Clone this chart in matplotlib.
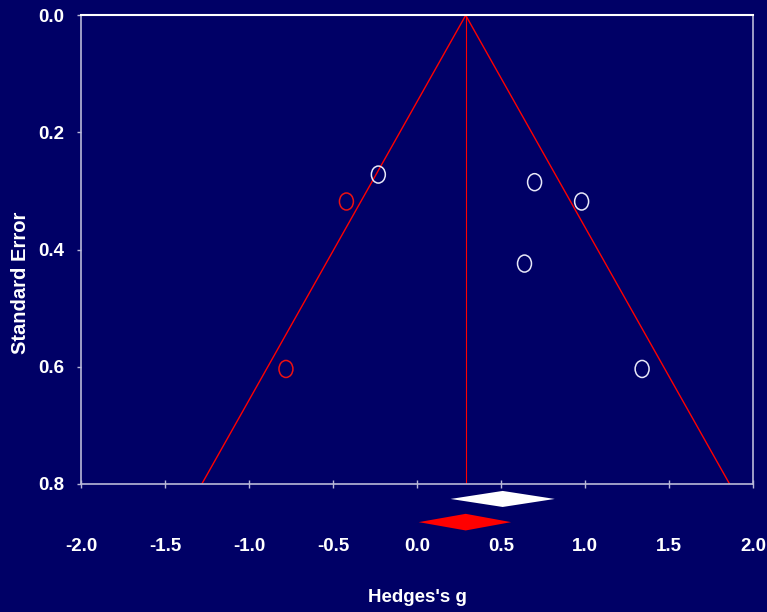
import numpy as np
import matplotlib
matplotlib.use('Agg')
import matplotlib.pyplot as plt
from matplotlib.path import Path
from matplotlib.transforms import Affine2D

# observed studies (white) and imputed studies (red)
obs_g = [-0.23, 0.70, 0.98, 0.64, 1.34]
obs_se = [0.272, 0.285, 0.318, 0.424, 0.604]
imp_g = [-0.42, -0.78]
imp_se = [0.318, 0.604]

# combined effect: observed (white) and adjusted (red) diamonds
obs_est = [0.20, 0.51, 0.82]
adj_est = [0.01, 0.29, 0.56]

# funnel (pseudo 95% limits)
funnel_x = [-1.28, 0.29, 1.86]
funnel_se = [0.8, 0.0, 0.8]

xticks = [-2.0, -1.5, -1.0, -0.5, 0.0, 0.5, 1.0, 1.5, 2.0]
yticks = [0.0, 0.2, 0.4, 0.6, 0.8]

bg = '#000066'
plt.rcParams['font.family'] = ['Liberation Sans', 'DejaVu Sans']

fig = plt.figure(figsize=(7.67, 6.12), dpi=100, facecolor=bg)
ax = fig.add_axes([0.1056, 0.2096, 0.8761, 0.7654])
ax.set_facecolor(bg)

# tall ellipse marker
ell = Path.unit_circle().transformed(Affine2D().scale(0.82, 1.0))

ax.plot(funnel_x, funnel_se, color='#ff0000', lw=1.0, zorder=2)
ax.plot([funnel_x[1], funnel_x[1]], [0, 0.8], color='#ff0000', lw=0.8, zorder=2)

ax.scatter(obs_g, obs_se, marker=ell, s=150, facecolors='none',
           edgecolors='#e8e8f8', linewidths=1.1, zorder=3)
ax.scatter(imp_g, imp_se, marker=ell, s=150, facecolors='none',
           edgecolors='#ee1111', linewidths=1.1, zorder=3)

# diamonds below the axis
def diamond(est, yc, h, color):
    xs = [est[0], est[1], est[2], est[1]]
    ys = [yc, yc - h, yc, yc + h]
    ax.fill(xs, ys, color=color, clip_on=False, zorder=4, lw=0)

diamond(obs_est, 0.826, 0.0137, 'white')
diamond(adj_est, 0.8656, 0.0142, '#ff0000')

ax.set_xlim(-2, 2)
ax.set_ylim(0.8, 0.0)
ax.set_xticks(xticks)
ax.set_xticklabels([f'{v:.1f}' for v in xticks])
ax.set_yticks(yticks)
ax.set_yticklabels([f'{v:.1f}' for v in yticks])

for s in ['left', 'bottom', 'right']:
    ax.spines[s].set_color('#b8b8d8')
    ax.spines[s].set_linewidth(1.2)
ax.spines['top'].set_color('white')
ax.spines['top'].set_linewidth(1.5)

ax.tick_params(axis='x', direction='inout', length=6, width=1, color='#b8b8d8',
               pad=36, labelsize=13.5, labelcolor='white')
ax.tick_params(axis='y', direction='out', length=3, width=1, color='#b8b8d8',
               pad=9, labelsize=13.5, labelcolor='white')
for lab in ax.get_xticklabels() + ax.get_yticklabels():
    lab.set_fontweight('bold')

fig.text(417 / 767, 1 - 598 / 612, "Hedges's g", color='white', fontsize=13.5,
         fontweight='bold', ha='center', va='center')
fig.text(21 / 767, 1 - 283 / 612, 'Standard Error', color='white', fontsize=14.5,
         fontweight='bold', ha='center', va='center', rotation=90)

fig.savefig('out.png', dpi=100, facecolor=bg)
